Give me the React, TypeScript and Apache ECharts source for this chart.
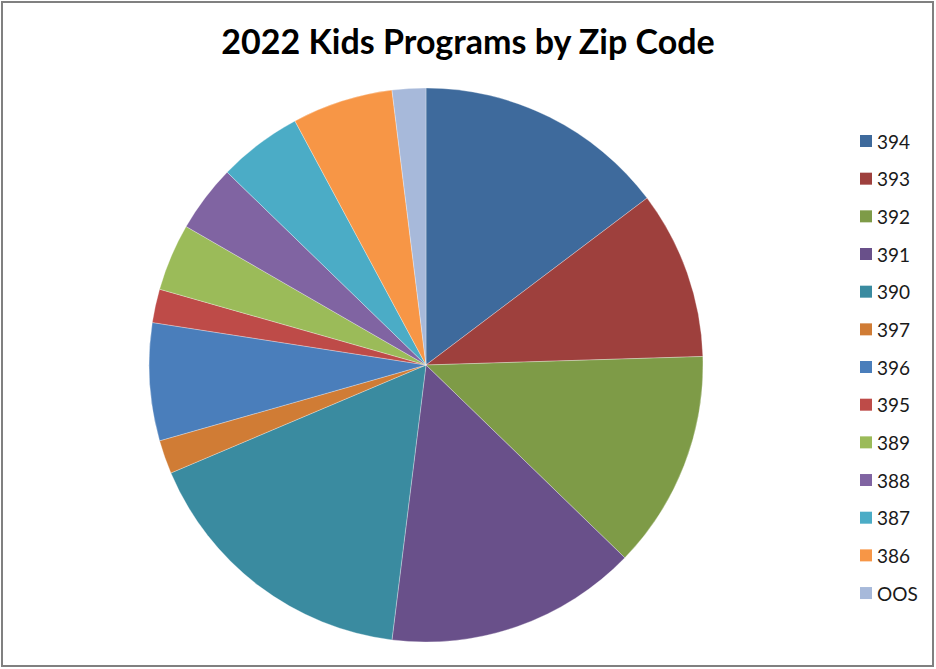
import React, { useEffect, useRef } from "react";
import * as echarts from "echarts";

const zipCodes = ["394", "393", "392", "391", "390", "397", "396", "395", "389", "388", "387", "386", "OOS"];
const programCounts = [15, 10, 13, 15, 17, 2, 7, 2, 4, 4, 5, 6, 2];
const sliceColors = [
  "#3E6A9C", "#9E403D", "#7E9B47", "#69508A", "#3A8BA0", "#D07C35",
  "#4A7EBB", "#BE4B48", "#9BBB59", "#8064A2", "#4BACC6", "#F79646", "#A7B9DA",
];
const titleText = "2022 Kids Programs by Zip Code";

export default function App() {
  const ref = useRef<HTMLDivElement>(null);
  useEffect(() => {
    if (!ref.current) return;
    const chart = echarts.init(ref.current, undefined, { renderer: "svg" });
    chart.setOption({
      animation: false,
      backgroundColor: "#ffffff",
      color: sliceColors,
      title: {
        text: titleText,
        left: 463,
        top: 18,
        textAlign: "center",
        textStyle: { fontFamily: "Lato", fontWeight: "bold", fontSize: 34, color: "#000000" },
      },
      legend: {
        orient: "vertical",
        left: 860,
        top: 131,
        padding: 0,
        itemWidth: 12,
        itemHeight: 12,
        itemGap: 17.67,
        icon: "rect",
        data: zipCodes,
        textStyle: { fontFamily: "Lato", fontSize: 19, lineHeight: 20, color: "#1a1a1a", padding: [0, 0, 0, 0] },
        itemStyle: { borderWidth: 0 },
      },
      graphic: [
        {
          type: "rect",
          shape: { x: 2, y: 2, width: 931, height: 664 },
          style: { fill: "none", stroke: "#808080", lineWidth: 2 },
          silent: true,
        },
      ],
      series: [
        {
          type: "pie",
          center: [426, 365],
          radius: 277,
          startAngle: 90,
          clockwise: true,
          label: { show: false },
          labelLine: { show: false },
          itemStyle: { borderColor: "rgba(255,255,255,0.6)", borderWidth: 0.5 },
          emphasis: { disabled: true },
          data: zipCodes.map((z, i) => ({ name: z, value: programCounts[i] })),
        },
      ],
    });
    return () => chart.dispose();
  }, []);
  return (
    <div
      ref={ref}
      style={{ position: "fixed", left: 0, top: 0, width: 936, height: 669 }}
    />
  );
}
